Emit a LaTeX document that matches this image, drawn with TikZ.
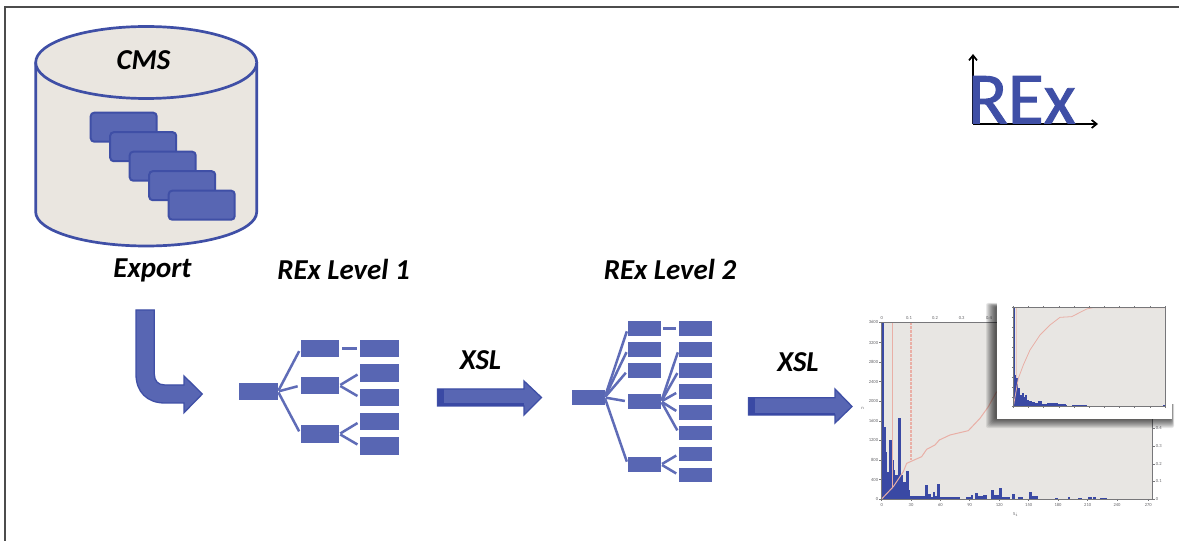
\documentclass[tikz,border=0pt]{standalone}
\usepackage{fontspec}
\setmainfont{Carlito}
\newfontfamily\logofont[FakeBold=1.2]{Carlito}
\usetikzlibrary{arrows.meta}
\definecolor{bluefill}{HTML}{5866B3}
\definecolor{blueedge}{HTML}{3F4FA6}
\definecolor{bluedark}{HTML}{3A49A4}
\definecolor{treeline}{HTML}{5F6CB7}
\definecolor{canbg}{HTML}{EAE6E0}
\definecolor{plotbg}{HTML}{E8E6E3}
\definecolor{salmon}{HTML}{E9AFA6}
\definecolor{axisgray}{HTML}{77777A}
\definecolor{ticktext}{HTML}{66666A}
\tikzset{
  caption/.style={font=\fontsize{29}{29}\selectfont\bfseries\itshape,text=black,inner sep=0pt,anchor=base},
  treebox/.style={fill=bluefill,inner sep=0pt,minimum width=#1,minimum height=17.5bp},
  treebox/.default=38.5bp,
  smallbox/.style={fill=bluefill,inner sep=0pt,minimum width=33bp,minimum height=14.5bp},
  edge/.style={draw=treeline,line width=2.5bp,shorten >=3bp,shorten <=1bp},
  doc/.style={draw=blueedge,fill=bluefill,line width=2bp,rounded corners=3.5bp},
  blockarrow/.style={draw=blueedge,fill=bluefill,line width=1.3bp,line join=miter},
  tick/.style={font=\fontsize{4.6}{4.6}\selectfont,text=ticktext,inner sep=0pt},
  bar/.style={fill=bluedark},
  axisarrow/.style={draw=black,line width=1.7bp,-{Straight Barb[length=5bp,width=8bp]}},
}
\begin{document}
\begin{tikzpicture}[x=1bp,y=-1bp]
\useasboundingbox (0,0) rectangle (1179,541);
\fill[white] (0,0) rectangle (1179,541);
% frame
\draw[color=black!70,line width=1.2bp] (5,541) -- (5,7) -- (1179,7);

% CMS cylinder
\draw[draw=blueedge,fill=canbg,line width=2.7bp]
  (35.7,62.5) -- (35.7,212) .. controls (35.7,230.8) and (85.2,246) .. (146.2,246)
  .. controls (207.2,246) and (256.7,230.8) .. (256.7,212) -- (256.7,62.5);
\draw[draw=blueedge,fill=canbg,line width=2.7bp] (146.2,62.5) ellipse [x radius=110.5,y radius=36];
\node[caption] (cms) at (143.5,69.5) {CMS};
\foreach \i in {0,...,4}{
  \draw[doc] ({90.7+19.5*\i},{112.7+19.5*\i}) rectangle ({156.7+19.5*\i},{141.7+19.5*\i});
}

% REx logo
\coordinate (ox) at (973,124);
\coordinate (oy) at (973,54);
\coordinate (ex) at (1098,124);
\draw[axisarrow] (ox) -- (oy);
\draw[axisarrow] (ox) -- (ex);
\node[font=\fontsize{74}{74}\selectfont\logofont,text=blueedge,inner sep=0pt,anchor=base west] (rex) at (967.5,123.5) {REx};

% captions
\node[caption] (export) at (152.5,278) {Export};
\node[caption] (lev1) at (343.5,280) {REx Level 1};
\node[caption] (lev2) at (670,279.5) {REx Level 2};
\node[caption] (xsl1) at (480.5,369.5) {XSL};
\node[caption] (xsl2) at (798,371.5) {XSL};

% export arrow
\draw[blockarrow] (136,310) -- (154.3,310) -- (154.3,374) .. controls (154.3,381) and (158,385) .. (165,385)
  -- (184,385) -- (184,376) -- (202.3,394) -- (184,412.7) -- (184,403) -- (165,403)
  .. controls (147,403) and (136,392) .. (136,374) -- cycle;

% tree 1
\node[treebox] (r) at (258.5,391.5) {};
\node[treebox] (a1) at (320,348.5) {};
\node[treebox] (a2) at (320,385.5) {};
\node[treebox] (a3) at (320,434) {};
\foreach \n/\y in {b1/348.5,b2/373,b3/397.5,b4/421.5,b5/446}{
  \node[treebox] (\n) at (379.5,\y) {};
}
\draw[edge] (r.east) -- (a1.west);
\draw[edge] (r.east) -- (a2.west);
\draw[edge] (r.east) -- (a3.west);
\draw[edge,shorten <=3bp] (a1.east) -- (b1.west);
\draw[edge] (a2.east) -- (b2.west);
\draw[edge] (a2.east) -- (b3.west);
\draw[edge] (a3.east) -- (b4.west);
\draw[edge] (a3.east) -- (b5.west);

% arrow XSL 1
\draw[blockarrow] (437.5,389) -- (524,389) -- (524,381) -- (541.5,397.5) -- (524,415) -- (524,406) -- (437.5,406) -- cycle;
\fill[bluedark] (437.5,389) rectangle (444,406);
\fill[bluedark] (437.5,403.5) rectangle (524,406);

% tree 2
\node[smallbox] (s) at (588,397.5) {};
\foreach \n/\y in {c1/328.5,c2/349.5,c3/370.5,c4/401.5,c5/464.5}{
  \node[smallbox] (\n) at (644.5,\y) {};
}
\foreach \n/\y in {d1/328.5,d2/349.5,d3/370.5,d4/391.5,d5/412.5,d6/433,d7/454,d8/475}{
  \node[smallbox] (\n) at (695.5,\y) {};
}
\foreach \t in {c1,c2,c3,c4,c5}{ \draw[edge] (s.east) -- (\t.west); }
\draw[edge,shorten <=2bp] (c1.east) -- (d1.west);
\foreach \t in {d2,d3,d4,d5,d6}{ \draw[edge] (c4.east) -- (\t.west); }
\draw[edge] (c5.east) -- (d7.west);
\draw[edge] (c5.east) -- (d8.west);

% arrow XSL 2
\draw[blockarrow] (748.5,397.7) -- (835,397.7) -- (835,389) -- (852,406.5) -- (835,423) -- (835,415) -- (748.5,415) -- cycle;
\fill[bluedark] (748.5,397.7) rectangle (755,415);
\fill[bluedark] (748.5,412.5) rectangle (835,415);

% main plot (coordinates of a 3x crop)
\begin{scope}[shift={(840,290)},x=0.33333bp,y=-0.33333bp]
  \fill[plotbg] (125,97) rectangle (937,627);
  % bars
  \foreach \a/\b/\t in {125/133/97,133/137/410,137/141/485,141/147/545,147/155/560,148/156/450,156/161/510,161/166/540,166/174/555,174/183/383,183/190/555,190/197/575,197/206/542,206/210/600,210/254/617,254/263/585,263/272/612,272/278/622,278/286/605,286/291/618,291/300/581,300/360/622,378/392/622,392/400/615,405/414/608,414/430/618,430/442/616,453/463/600,463/476/615,476/485/593,485/510/620,515/525/613,535/550/620,566/577/606,577/594/617,645/655/624,683/691/621,715/725/624,745/755/621,760/769/620,780/800/625}{
    \fill[bar] (\a,\t) rectangle (\b,627);
  }
  % curve
  \draw[salmon,line width=1bp] (125,627) -- (160,590) -- (190,545) -- (200,520) -- (245,500) -- (260,478) -- (285,465) -- (298,450) -- (330,435) -- (385,422) -- (420,385) -- (445,350) -- (470,305);
  \draw[salmon,line width=1bp] (158,97) -- (158,590);
  \draw[salmon,line width=1.1bp,dash pattern=on 2.5bp off 1.5bp] (213,97) -- (213,510);
  % axes
  \draw[axisgray,line width=.7bp] (125,97) -- (937,97) (125,627) -- (937,627) (125,97) -- (125,627) (937,97) -- (937,627);
  \foreach \y/\l in {627/0,569/400,510/800,451/1200,393/1600,334/2000,275/2400,216/2800,158/3200,97/3600}{
    \draw[axisgray,line width=.5bp] (118,\y) -- (125,\y);
    \node[tick,anchor=east] (yl\l) at (115,\y) {\l};
  }
  \foreach \x/\l in {125/0,213/30,301/60,389/90,478/120,566/150,654/180,743/210,831/240,925/270}{
    \draw[axisgray,line width=.5bp] (\x,627) -- (\x,634);
    \node[tick] (xl\l) at (\x,645) {\l};
  }
  \foreach \x/\l/\m in {125/0/a,207/0.1/b,285/0.2/c,365/0.3/d,447/0.4/e}{
    \node[tick] (tl\m) at (\x,85) {\l};
  }
  \foreach \y/\l/\m in {627/0/a,574/0.1/b,522/0.2/c,468/0.3/d,415/0.4/e}{
    \draw[axisgray,line width=.5bp] (937,\y) -- (944,\y);
    \node[tick,anchor=west] (rl\m) at (947,\y) {\l};
  }
  \node[tick] (nlab) at (68,356) {n};
  \node[tick] (slab) at (527,673) {S$_i$};
\end{scope}

% inset shadow
\foreach \i in {0,...,9}{
  \fill[black,fill opacity=.085,rounded corners=2bp] ({986+\i},{303+\i*.4}) rectangle ({1174-\i*.3},{428-\i});
}
\fill[white] (997,296) rectangle (1172,418.5);
\fill[white] (1172,296) rectangle (1179,404);

% inset plot (coordinates of a 3x crop)
\begin{scope}[shift={(980,295)},x=0.33333bp,y=-0.33333bp]
  \fill[plotbg] (100,37) rectangle (555,335);
  \foreach \a/\b/\t in {100/106/37,106/110/240,110/115/250,115/120/280,120/125/300,125/131/295,131/136/305,136/142/300,142/148/315,148/155/318,155/165/320,165/175/324,175/186/318,186/200/326,200/215/325,215/235/323,235/258/326,258/262/331,275/300/329,300/322/330,345/352/332,415/422/332,450/456/332,550/555/330}{
    \fill[bar] (\a,\t) rectangle (\b,335);
  }
  \draw[salmon,line width=.8bp] (100,335) -- (115,250) -- (130,210) -- (150,165) -- (180,120) -- (210,90) -- (240,67) -- (275,65) -- (320,42) -- (340,38) -- (555,38);
  \draw[salmon!60!plotbg,line width=.6bp] (110,37) -- (110,250);
  \draw[axisgray,line width=.6bp] (100,37) rectangle (555,335);
  \foreach \i in {0,...,10}{
    \draw[axisgray,line width=.35bp] ({100+45.5*\i},335) -- ({100+45.5*\i},339);
    \draw[axisgray,line width=.35bp] ({100+45.5*\i},37) -- ({100+45.5*\i},33);
    \draw[axisgray,line width=.35bp] (100,{335-29.8*\i}) -- (96,{335-29.8*\i});
    \draw[axisgray,line width=.35bp] (555,{335-29.8*\i}) -- (559,{335-29.8*\i});
  }
\end{scope}
\end{tikzpicture}
\end{document}
